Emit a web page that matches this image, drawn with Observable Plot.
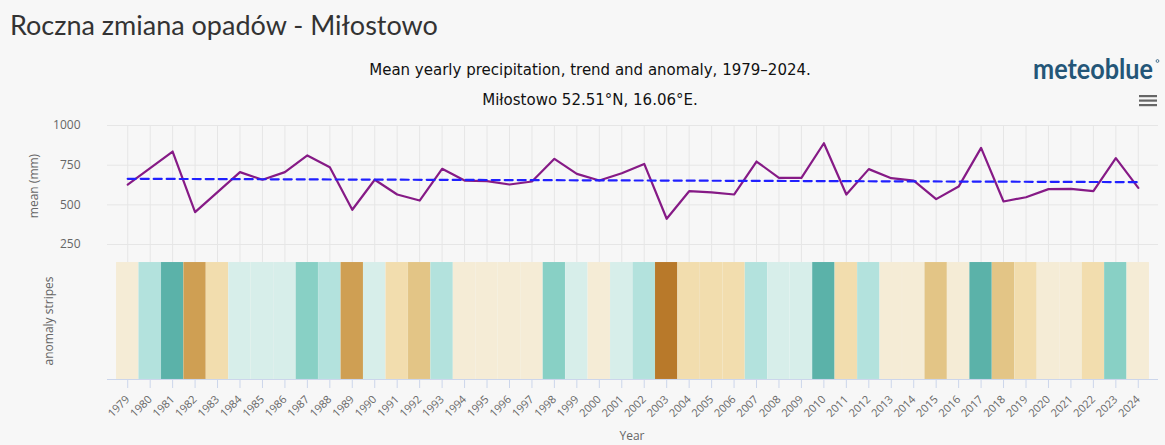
<!DOCTYPE html>
<html><head><meta charset="utf-8">
<script src="https://cdn.jsdelivr.net/npm/d3@7"></script>
<script src="https://cdn.jsdelivr.net/npm/@observablehq/plot@0.6"></script>
<style>
html,body{margin:0;padding:0;background:#f7f7f7;}
#wrap{position:relative;width:1165px;height:445px;overflow:hidden;background:#f7f7f7;font-family:"Open Sans",sans-serif;}
#topchart,#bottomchart,#overlay{position:absolute;left:0;}
#topchart{top:110px;}
#bottomchart{top:262px;}
#overlay{top:0;pointer-events:none;}
#bottomchart g[aria-label="x-axis tick"]{stroke:#ccd6eb;color:#ccd6eb;}
#bottomchart g[aria-label="x-axis tick label"]{fill:#666;color:#666;}
</style></head>
<body><div id="wrap"><div id="topchart"></div><div id="bottomchart"></div>
<svg id="overlay" width="1165" height="445" xmlns="http://www.w3.org/2000/svg">
  <text x="10" y="35" font-family="Lato, sans-serif" font-size="27" fill="#333">Roczna zmiana opadów - Miłostowo</text>
  <text x="590" y="75" text-anchor="middle" font-family="DejaVu Sans, sans-serif" font-size="15" fill="#111">Mean yearly precipitation, trend and anomaly, 1979–2024.</text>
  <text x="590" y="105" text-anchor="middle" font-family="DejaVu Sans, sans-serif" font-size="15" fill="#111">Miłostowo 52.51°N, 16.06°E.</text>
  <text x="1033" y="79" font-family="Lato, sans-serif" font-weight="700" font-size="28" fill="#245678" textLength="120" lengthAdjust="spacingAndGlyphs">meteoblue</text>
  <circle cx="1157.5" cy="61" r="1.4" fill="none" stroke="#245678" stroke-width="0.8"/>
  <rect x="1139" y="95" width="18" height="2.2" fill="#666"/>
  <rect x="1139" y="99.5" width="18" height="2.2" fill="#666"/>
  <rect x="1139" y="104" width="18" height="2.2" fill="#666"/>
  <text transform="translate(33,186) rotate(-90)" text-anchor="middle" dominant-baseline="central" font-family="Open Sans, sans-serif" font-size="12" fill="#666">mean (mm)</text>
  <text transform="translate(48,321) rotate(-90)" text-anchor="middle" dominant-baseline="central" font-family="Open Sans, sans-serif" font-size="12" fill="#666">anomaly stripes</text>
  <text x="632" y="440" text-anchor="middle" font-family="Open Sans, sans-serif" font-size="12" fill="#666">Year</text>
</svg>
</div>
<script>
const years = [1979,1980,1981,1982,1983,1984,1985,1986,1987,1988,1989,1990,1991,1992,1993,1994,1995,1996,1997,1998,1999,2000,2001,2002,2003,2004,2005,2006,2007,2008,2009,2010,2011,2012,2013,2014,2015,2016,2017,2018,2019,2020,2021,2022,2023,2024];
const precipitation = [628,731,836,454,580,706,658,706,811,737,469,658,565,527,727,653,649,628,647,790,695,653,699,758,412,586,578,565,773,670,670,888,565,725,668,653,536,615,859,521,548,599,601,586,794,607];
const trendYears = [1979, 2024];
const trendValues = [664, 643];
const anomalyClass = [0,2,4,-3,-1,1,1,1,3,2,-3,1,-1,-2,2,0,0,0,0,3,1,0,1,2,-4,-1,-1,-1,2,1,1,4,-1,2,0,0,-2,0,4,-2,-1,0,0,-1,3,0];
const anomalyLevels = [-4,-3,-2,-1,0,1,2,3,4];
const anomalyColors = ["#b8792a","#cf9f53","#e3c586","#f2ddae","#f5ecd6","#d7eeea","#b3e2dd","#88d0c5","#5bb2a9"];
const yTicks = [250,500,750,1000];

const rows = years.map((year, i) => ({year, precip: precipitation[i], cls: anomalyClass[i]}));
const trend = trendYears.map((year, i) => ({year, value: trendValues[i]}));

const W = 1165, ML = 107, MR = 7;

const topChart = Plot.plot({
  width: W, height: 152,
  marginLeft: ML, marginRight: MR, marginTop: 15, marginBottom: 0,
  style: {background: "transparent", fontSize: "12px", color: "#666", fontFamily: "Open Sans, sans-serif", overflow: "visible"},
  x: {type: "point", domain: years, padding: 0.9, round: false, axis: null},
  y: {domain: [136.5, 1000], ticks: yTicks, tickSize: 0, tickPadding: 27, label: null, tickFormat: d => String(d)},
  marks: [
    Plot.ruleX(years, {stroke: "#e6e6e6", strokeWidth: 1}),
    Plot.ruleY(yTicks, {stroke: "#e6e6e6", strokeWidth: 1}),
    Plot.line(rows, {x: "year", y: "precip", stroke: "#861a86", strokeWidth: 2.2}),
    Plot.line(trend, {x: "year", y: "value", stroke: "#2020ff", strokeWidth: 2.2, strokeDasharray: "8,5"})
  ]
});
document.getElementById("topchart").appendChild(topChart);

const bottomChart = Plot.plot({
  width: W, height: 183,
  marginLeft: ML, marginRight: MR, marginTop: 0, marginBottom: 66,
  style: {background: "transparent", fontSize: "11px", color: "#666", fontFamily: "Open Sans, sans-serif", overflow: "visible"},
  x: {type: "band", domain: years, paddingInner: 0, paddingOuter: 0.4, round: false, tickRotate: -45, tickSize: 9, tickPadding: 9, label: null, tickFormat: d => String(d)},
  y: {domain: [0, 1], axis: null},
  color: {type: "ordinal", domain: anomalyLevels, range: anomalyColors},
  marks: [
    Plot.barY(rows, {x: "year", y1: 0, y2: 1, fill: "cls", inset: 0, stroke: "#ffffff", strokeOpacity: 0.12, strokeWidth: 0.6}),
    Plot.ruleY([0], {stroke: "#ccd6eb", strokeWidth: 1})
  ]
});
document.getElementById("bottomchart").appendChild(bottomChart);
</script>
</body></html>
